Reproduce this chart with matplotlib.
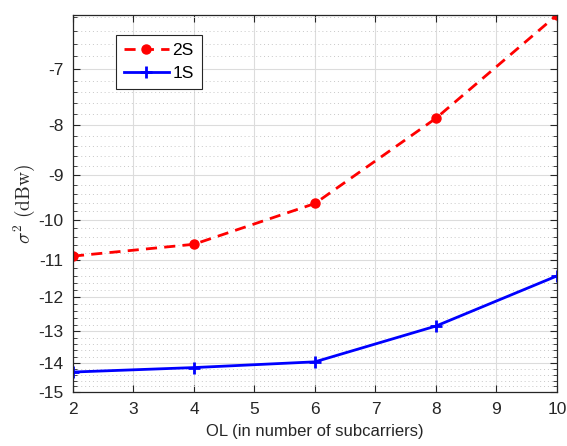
import numpy as np
import matplotlib
matplotlib.use('Agg')
import matplotlib.pyplot as plt
from matplotlib.ticker import FixedLocator, FormatStrFormatter, NullLocator

plt.rcParams['font.family'] = ['Liberation Sans', 'DejaVu Sans']
plt.rcParams['mathtext.fontset'] = 'cm'
plt.rcParams['axes.unicode_minus'] = False

# data
ol = [2, 4, 6, 8, 10]
s2 = [-10.89, -10.59, -9.62, -7.87, -6.17]
s1 = [-14.31, -14.16, -13.97, -12.84, -11.41]
yticks = list(range(-15, -6))

# y axis is logarithmic in |value| (MATLAB-like look)
def fwd(y):
    y = np.asarray(y, dtype=float)
    return -np.log10(np.clip(-y, 1e-6, None))

def inv(u):
    return -10.0 ** (-np.asarray(u, dtype=float))

fig = plt.figure(figsize=(5.67, 4.46), dpi=100)
ax = fig.add_axes([0.1287, 0.121, 0.8536, 0.8454])

ax.plot(ol, s2, color='red', ls='--', lw=2, marker='o', ms=6.5, label='2S', dashes=(4, 2.6))
ax.plot(ol, s1, color='blue', ls='-', lw=2, marker='+', ms=8, mew=2, label='1S')

ax.set_yscale('function', functions=(fwd, inv))
ax.set_xlim(2, 10)
ax.set_ylim(-15, -6.17)
ax.yaxis.set_major_locator(FixedLocator(yticks))
ax.yaxis.set_minor_locator(FixedLocator(np.round(np.arange(-15, -6.1, 0.2), 2)))
ax.yaxis.set_major_formatter(FormatStrFormatter('%d'))
ax.set_xticks(range(2, 11))
ax.xaxis.set_minor_locator(NullLocator())

ax.grid(True, which='major', color='#dcdcdc', lw=0.8)
ax.grid(True, which='minor', axis='y', color='#c8c8c8', lw=0.7, ls=(0, (1, 3)))
ax.set_axisbelow(True)

ax.tick_params(which='both', direction='in', top=True, right=True, colors='#262626', labelsize=12.5)
ax.tick_params(which='major', length=5, width=0.8)
ax.tick_params(axis='y', which='major', pad=7)
ax.tick_params(axis='x', which='major', pad=7)
ax.tick_params(which='minor', length=3, width=0.6)
for sp in ax.spines.values():
    sp.set_color('#262626')
    sp.set_linewidth(0.9)

ax.set_xlabel('OL (in number of subcarriers)', fontsize=12, color='#262626', labelpad=5)
ax.set_ylabel(r'$\sigma^2\ \mathrm{(dBw)}$', fontsize=14, color='#262626', labelpad=1)

leg = ax.legend(loc='upper left', bbox_to_anchor=(0.089, 0.947), fontsize=12.5,
                fancybox=False, edgecolor='#262626', framealpha=1, borderaxespad=0,
                handlelength=2.6, borderpad=0.45, labelspacing=0.45, handletextpad=0.2)
leg.get_frame().set_linewidth(0.8)

fig.savefig('out.png', dpi=100)
